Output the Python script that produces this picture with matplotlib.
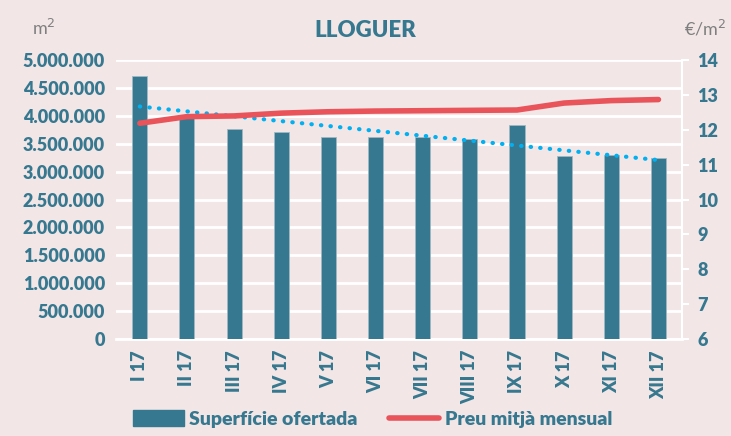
import matplotlib.pyplot as plt
import numpy as np
from matplotlib.lines import Line2D
from matplotlib.patches import Patch

months = ["I 17", "II 17", "III 17", "IV 17", "V 17", "VI 17",
          "VII 17", "VIII 17", "IX 17", "X 17", "XI 17", "XII 17"]
superficie = [4713000, 3966000, 3758000, 3710000, 3626000, 3620000,
              3626000, 3584000, 3835000, 3285000, 3297000, 3244000]
preu = [12.19, 12.38, 12.40, 12.48, 12.52, 12.54,
        12.55, 12.56, 12.57, 12.77, 12.84, 12.87]

bg = "#f2e6e6"
teal = "#36788f"
red = "#e9535a"
trend_blue = "#00b0f0"
grey = "#7f7f7f"
wt = 'heavy'

plt.rcParams['font.family'] = ['Lato', 'DejaVu Sans']

fig = plt.figure(figsize=(7.31, 4.36), dpi=100, facecolor=bg)
ax = fig.add_axes([0.159, 0.2225, 0.774, 0.6395])
ax.set_facecolor(bg)

x = np.arange(len(months))
ax.bar(x, superficie, width=0.32, color=teal, edgecolor="#9fb9c4", linewidth=0.6, zorder=3)

# linear trendline of the surface series
coef = np.polyfit(x, superficie, 1)
ax.plot(x, np.polyval(coef, x), color=trend_blue, linestyle=(0, (0.1, 2.2)),
        linewidth=3, dash_capstyle='round', zorder=5)

ax.set_ylim(0, 5000000)
ax.set_xlim(-0.5, len(months) - 0.5)
ticks = np.arange(0, 5000001, 500000)
ax.set_yticks(ticks)
ax.set_yticklabels([f"{int(t):,}".replace(",", ".") for t in ticks])
ax.grid(axis='y', color='white', linewidth=2, zorder=0)
ax.set_axisbelow(True)
ax.set_xticks(x)
ax.set_xticklabels(months, rotation=90)
for s in ["top", "left", "right"]:
    ax.spines[s].set_visible(False)
ax.spines["bottom"].set_color("white")
ax.spines["bottom"].set_linewidth(2)
ax.tick_params(axis='both', length=0, colors=teal, labelsize=13, pad=8)
for lab in ax.get_xticklabels() + ax.get_yticklabels():
    lab.set_fontweight(wt)

ax2 = ax.twinx()
ax2.plot(x, preu, color=red, linewidth=4, solid_capstyle='round', zorder=4)
ax2.set_ylim(6, 14)
ax2.set_yticks(range(6, 15))
for s in ["top", "left", "bottom"]:
    ax2.spines[s].set_visible(False)
ax2.spines["right"].set_color("white")
ax2.spines["right"].set_linewidth(1.5)
ax2.tick_params(axis='y', length=5, width=1.5, colors=teal, labelsize=13, pad=6)
ax2.tick_params(axis='y', color='white')
for lab in ax2.get_yticklabels():
    lab.set_fontweight(wt)

fig.text(0.5, 0.93, "LLOGUER", ha='center', va='center', color=teal,
         fontsize=16, fontweight=wt)
fig.text(0.06, 0.935, "m$^2$", ha='center', va='center', color=grey, fontsize=13)
fig.text(0.965, 0.935, "€/m$^2$", ha='center', va='center', color=grey, fontsize=13)

handles = [Patch(facecolor=teal, edgecolor=teal),
           Line2D([0], [0], color=red, linewidth=4, solid_capstyle='round')]
fig.legend(handles, ["Superfície ofertada", "Preu mitjà mensual"], ncol=2,
           loc='lower center', bbox_to_anchor=(0.51, -0.022), frameon=False,
           handlelength=2.6, handleheight=0.9, handletextpad=0.3, columnspacing=1.6,
           prop={'weight': wt, 'size': 14}, labelcolor=teal)

fig.savefig("out.png", dpi=100, facecolor=bg)
